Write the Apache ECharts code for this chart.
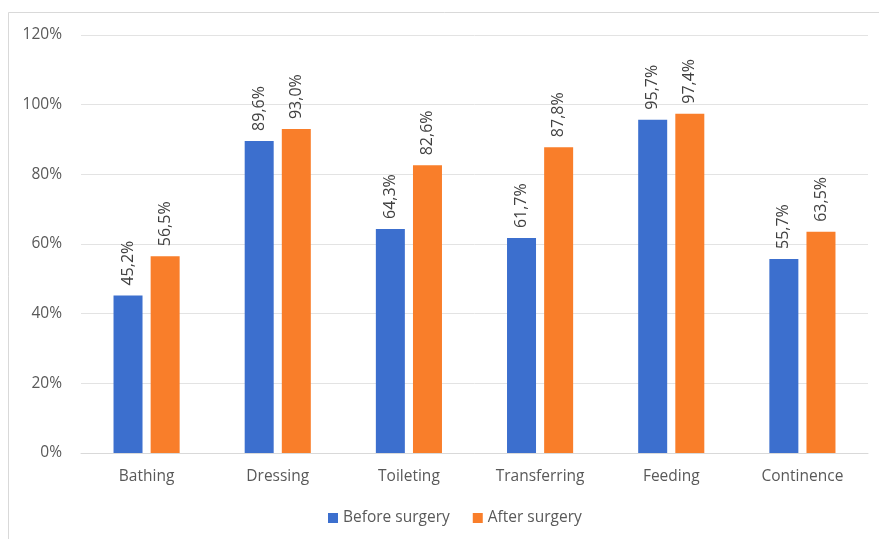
<!DOCTYPE html>
<html>
<head>
<meta charset="utf-8">
<script src="https://cdn.jsdelivr.net/npm/echarts@6/dist/echarts.min.js"></script>
<style>
  html, body { margin: 0; padding: 0; background: #fff; }
  #chart { width: 879px; height: 539px; }
</style>
</head>
<body>
<div id="chart"></div>
<script>
// ADL categories and share of independent patients (%)
const categories = ['Bathing', 'Dressing', 'Toileting', 'Transferring', 'Feeding', 'Continence'];
const beforeSurgery = [45.2, 89.6, 64.3, 61.7, 95.7, 55.7];
const afterSurgery = [56.5, 93.0, 82.6, 87.8, 97.4, 63.5];
const seriesNames = ['Before surgery', 'After surgery'];
const yTicks = { min: 0, max: 120, interval: 20 };

const FONT = '"Open Sans", "DejaVu Sans", sans-serif';
const fmt = v => v.toFixed(1).replace('.', ',') + '%';

const chart = echarts.init(document.getElementById('chart'), null, { renderer: 'canvas' });

const labelStyle = {
  show: true,
  position: 'top',
  rotate: 90,
  align: 'left',
  verticalAlign: 'middle',
  distance: 10,
  color: '#404040',
  fontFamily: FONT,
  fontSize: 16,
  formatter: p => fmt(p.value)
};

chart.setOption({
  backgroundColor: '#ffffff',
  animation: false,
  graphic: [{
    type: 'rect',
    shape: { x: 8.5, y: 12.5, width: 900, height: 600 },
    style: { fill: 'none', stroke: '#d9d9d9', lineWidth: 1 },
    silent: true
  }],
  grid: { left: 81, right: 11, top: 35, bottom: 86, containLabel: false },
  legend: {
    bottom: 8,
    left: 323,
    itemWidth: 10,
    itemHeight: 10,
    itemGap: 23,
    icon: 'rect',
    textStyle: { color: '#595959', fontFamily: FONT, fontSize: 15.5 },
    data: seriesNames
  },
  xAxis: {
    type: 'category',
    data: categories,
    axisLine: { lineStyle: { color: '#d9d9d9' } },
    axisTick: { show: false },
    axisLabel: { color: '#595959', fontFamily: FONT, fontSize: 15.5, margin: 16 }
  },
  yAxis: {
    type: 'value',
    min: yTicks.min,
    max: yTicks.max,
    interval: yTicks.interval,
    axisLine: { show: false },
    axisTick: { show: false },
    splitLine: { lineStyle: { color: '#e3e3e3' } },
    axisLabel: {
      color: '#595959', fontFamily: FONT, fontSize: 15.5, margin: 19,
      formatter: v => v + '%'
    }
  },
  series: [
    {
      name: seriesNames[0],
      type: 'bar',
      data: beforeSurgery,
      barWidth: 29,
      barGap: '28%',
      itemStyle: { color: '#3c6fce' },
      label: labelStyle
    },
    {
      name: seriesNames[1],
      type: 'bar',
      data: afterSurgery,
      barWidth: 29,
      itemStyle: { color: '#f97e2a' },
      label: labelStyle
    }
  ]
});
</script>
</body>
</html>
